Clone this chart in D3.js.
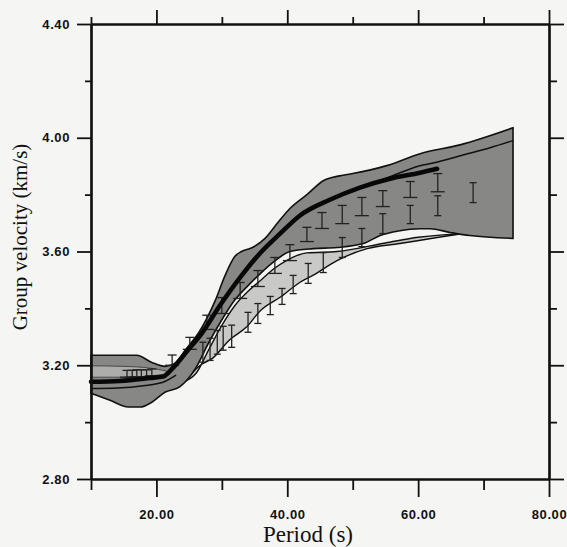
<!DOCTYPE html>
<html>
<head>
<meta charset="utf-8">
<script src="https://cdn.jsdelivr.net/npm/d3@7"></script>
<style>
  body { margin: 0; background: #f5f5f3; }
  svg { display: block; }
  .tick text { font-family: "Liberation Sans", Arial, sans-serif; font-size: 13px; font-weight: bold; letter-spacing: 0.6px; fill: #111; }
  .title { font-family: "Liberation Serif", "Times New Roman", serif; font-size: 21px; fill: #111; }
</style>
</head>
<body>
<div id="chart"></div>
<script>
const width = 567, height = 547;

// envelopes [period, velocity]
const dark_upper = [[10,3.235],[17,3.235],[19.3,3.21],[21.3,3.196],[23,3.21],[24.4,3.253],[26.7,3.323],[29.0,3.428],[30.5,3.516],[32.0,3.583],[33.0,3.60],[34.5,3.612],[36.6,3.646],[38.5,3.70],[40.4,3.751],[43.0,3.80],[45.5,3.849],[48,3.866],[50.0,3.874],[55.2,3.902],[60.3,3.944],[66.4,3.975],[74.5,4.035]];
const dark_lower = [[10,3.102],[12.9,3.077],[15.7,3.053],[17.5,3.053],[19.3,3.07],[21.3,3.105],[23.6,3.125],[26,3.19],[28,3.28],[30,3.36],[32,3.43],[34,3.48],[36,3.525],[38,3.565],[40.4,3.60],[44,3.61],[47.6,3.614],[51.6,3.628],[54.2,3.656],[57,3.672],[60.3,3.68],[61.8,3.68],[64.9,3.667],[67.9,3.656],[74.5,3.646]];
const light_upper = [[20.5,3.105],[23,3.13],[26,3.17],[28,3.255],[30,3.34],[32,3.41],[34,3.46],[36,3.50],[38,3.54],[40,3.57],[43,3.595],[47.6,3.60],[55,3.63],[60,3.65],[66.9,3.663]];
const light_lower = [[20.5,3.105],[23.6,3.13],[26.7,3.20],[28.6,3.225],[31.2,3.29],[33.8,3.335],[35.8,3.39],[38.9,3.439],[41.9,3.491],[43.9,3.516],[47.6,3.568],[52.2,3.61],[57.2,3.628],[62.9,3.649],[66.9,3.663]];
// lighter strip inside the dark envelope at short periods
const mid_upper = [[10,3.198],[15,3.196],[19,3.19],[21.5,3.18]];
const mid_lower = [[10,3.158],[15,3.158],[19,3.162],[21.5,3.17]];

// curves
const thick_curve = [[10,3.142],[14.4,3.145],[19,3.155],[21,3.16],[22.5,3.19],[24.7,3.25],[26.7,3.305],[29.7,3.41],[32.8,3.509],[35.8,3.593],[38.9,3.663],[41.9,3.726],[46.5,3.782],[51.1,3.825],[55.7,3.856],[60.3,3.877],[62.9,3.891]];
const thin_upper = [[52,3.832],[56,3.866],[60,3.9],[63,3.915],[67,3.94],[71,3.965],[74.5,3.99]];
const thin_left = [[10,3.118],[14,3.12],[18,3.128],[21,3.14],[23,3.165]];

// error bars [period, velocity, error]
const bars_upper = [[15.5,3.17,0.012],[16.3,3.17,0.012],[17.0,3.172,0.012],[17.7,3.172,0.012],[18.5,3.172,0.012],[19.3,3.175,0.012],[22.4,3.218,0.018],[25.1,3.277,0.021],[27.7,3.351,0.025],[30.0,3.41,0.028],[32.8,3.463,0.028],[35.5,3.505,0.028],[38.1,3.551,0.028],[40.4,3.596,0.028],[43.0,3.66,0.025],[45.3,3.709,0.028],[48.4,3.73,0.032],[51.4,3.758,0.032],[54.6,3.786,0.028],[58.8,3.818,0.028],[63.0,3.842,0.032]];
const bars_lower = [[27.1,3.246,0.035],[28.2,3.256,0.039],[29.3,3.281,0.042],[30.2,3.295,0.042],[31.5,3.302,0.039],[34.0,3.351,0.035],[35.5,3.382,0.035],[37.4,3.41,0.032],[39.2,3.442,0.028],[40.9,3.484,0.032],[43.2,3.523,0.035],[45.5,3.561,0.035],[48.4,3.614,0.035],[51.4,3.649,0.032],[54.6,3.698,0.035],[58.8,3.73,0.032],[63.0,3.761,0.035],[68.4,3.807,0.035]];

const x_major = [20, 40, 60, 80];
const x_minor = [10, 30, 50, 70];
const y_major = [2.8, 3.2, 3.6, 4.0, 4.4];
const y_minor = [3.0, 3.4, 3.8, 4.2];

const x = d3.scaleLinear().domain([10, 80]).range([91, 549]);
const y = d3.scaleLinear().domain([2.8, 4.4]).range([479, 24]);

const svg = d3.select('#chart').append('svg').attr('width', width).attr('height', height);
svg.append('rect').attr('width', width).attr('height', height).attr('fill', '#f5f5f3');

const line = d3.line().x(d => x(d[0])).y(d => y(d[1])).curve(d3.curveMonotoneX);

// closed outline: upper edge left->right, lower edge right->left
function polygon(up, lo) {
  const top = line(up);
  const bot = line(lo.slice().reverse()).replace(/^M/, 'L');
  return top + bot + 'Z';
}

svg.append('path').attr('d', polygon(light_upper, light_lower))
  .attr('fill', '#c9c9c7').attr('stroke', '#111').attr('stroke-width', 1.4);
svg.append('path').attr('d', polygon(dark_upper, dark_lower))
  .attr('fill', '#878786').attr('stroke', '#111').attr('stroke-width', 1.6);
svg.append('path').attr('d', polygon(mid_upper, mid_lower))
  .attr('fill', '#adadab').attr('stroke', '#333').attr('stroke-width', 0.8);

svg.append('path').attr('d', line(thin_left)).attr('fill', 'none').attr('stroke', '#111').attr('stroke-width', 1.5);
svg.append('path').attr('d', line(thin_upper)).attr('fill', 'none').attr('stroke', '#111').attr('stroke-width', 1.5);

function errorBars(data, capTop, capBot, cls) {
  const g = svg.append('g').attr('class', cls).attr('stroke', '#222').attr('stroke-width', 1.3);
  const s = g.selectAll('g').data(data).join('g');
  s.append('line').attr('x1', d => x(d[0])).attr('x2', d => x(d[0]))
    .attr('y1', d => y(d[1] + d[2])).attr('y2', d => y(d[1] - d[2]));
  s.append('line').attr('x1', d => x(d[0]) - capTop / 2).attr('x2', d => x(d[0]) + capTop / 2)
    .attr('y1', d => y(d[1] + d[2])).attr('y2', d => y(d[1] + d[2]));
  s.append('line').attr('x1', d => x(d[0]) - capBot / 2).attr('x2', d => x(d[0]) + capBot / 2)
    .attr('y1', d => y(d[1] - d[2])).attr('y2', d => y(d[1] - d[2]));
}
errorBars(bars_lower, 7, 7, 'bars-lower');
errorBars(bars_upper, 9, 14, 'bars-upper');

svg.append('path').attr('d', line(thick_curve)).attr('fill', 'none')
  .attr('stroke', '#080808').attr('stroke-width', 4.5).attr('stroke-linecap', 'round');

// axes: ticks point outward on all four sides
const fmt = d3.format('.2f');
function axis(gen, scale, vals, size, tf, transform) {
  const g = svg.append('g').attr('transform', transform)
    .call(gen(scale).tickValues(vals).tickSize(size).tickSizeOuter(0).tickFormat(tf));
  g.selectAll('line').attr('stroke', '#111').attr('stroke-width', 1.8);
  g.select('.domain').attr('stroke', '#111').attr('stroke-width', 2.2);
  return g;
}
axis(d3.axisBottom, x, x_minor, 11, () => '', 'translate(0,479)');
axis(d3.axisBottom, x, x_major, 18, fmt, 'translate(0,479)').call(g => g.selectAll('text').attr('y', 31));
axis(d3.axisTop, x, x_minor, 7, () => '', 'translate(0,24)');
axis(d3.axisTop, x, x_major, 14, () => '', 'translate(0,24)');
axis(d3.axisLeft, y, y_minor, 6, () => '', 'translate(91,0)');
axis(d3.axisLeft, y, y_major, 14, fmt, 'translate(91,0)').call(g => g.selectAll('text').attr('x', -21));
axis(d3.axisRight, y, y_minor, 8, () => '', 'translate(549,0)');
axis(d3.axisRight, y, y_major, 15, () => '', 'translate(549,0)');

svg.append('text').attr('class', 'title').attr('text-anchor', 'middle')
  .style('font-size', '23px').attr('x', 308).attr('y', 542).text('Period (s)');
svg.append('text').attr('class', 'title').attr('text-anchor', 'middle')
  .attr('transform', 'translate(27,237) rotate(-90)').text('Group velocity (km/s)');
</script>
</body>
</html>
